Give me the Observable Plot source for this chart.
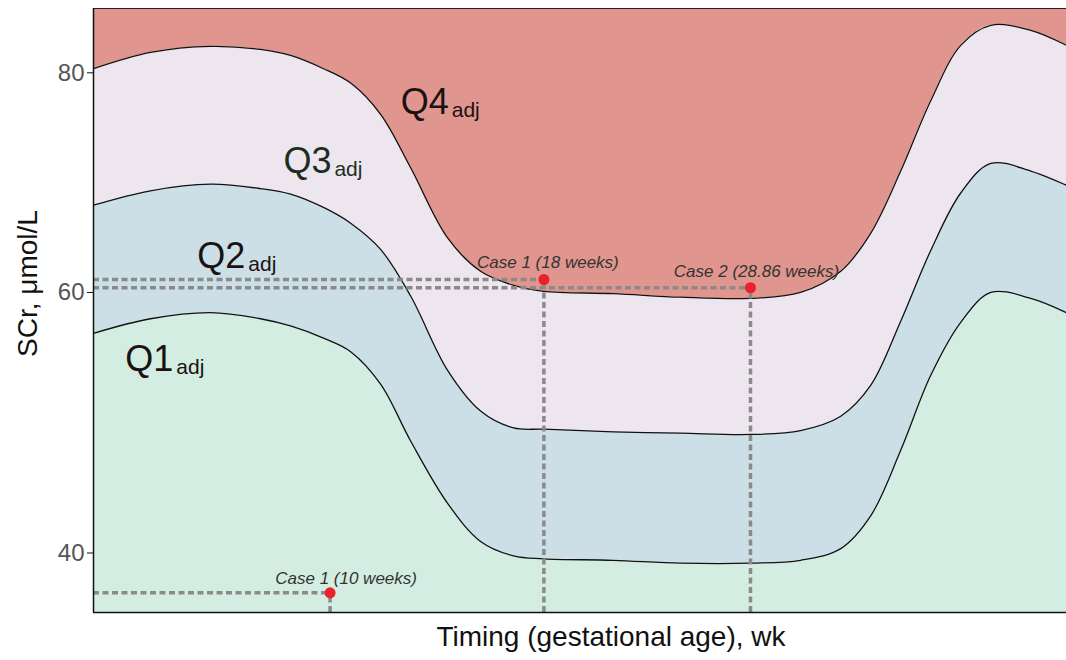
<!DOCTYPE html>
<html>
<head>
<meta charset="utf-8">
<script src="https://cdn.jsdelivr.net/npm/d3@7"></script>
<script src="https://cdn.jsdelivr.net/npm/@observablehq/plot@0.6"></script>
<style>
  html, body { margin: 0; padding: 0; background: #fff; overflow: hidden; }
  #chart svg { display: block; }
</style>
</head>
<body>
<div id="chart"></div>
<script>
// Gestational age (weeks) at which the band boundaries were read
const weeks  = [4.35, 5.44, 6.77, 8.02, 8.84, 9.80, 10.64, 11.62, 12.66, 14.02, 15.31, 16.68, 17.99, 21.29, 24.81, 28.87, 32.01, 34.69, 36.78, 38.96, 41.22, 43.56, 45.99, 49.36, 52.5];
// SCr boundaries (µmol/L) between adjusted quartiles
const upperQ3Q4  = [80.4, 82.0, 82.6, 82.3, 81.7, 80.4, 79.0, 76.0, 71.0, 64.7, 61.8, 60.6, 60.1, 59.9, 59.6, 59.5, 60.0, 61.8, 65.1, 70.7, 77.3, 82.7, 84.7, 84.2, 82.7];
const middleQ2Q3 = [67.6, 68.9, 69.5, 69.1, 68.6, 67.4, 66.0, 63.7, 59.7, 53.6, 50.4, 49.1, 49.0, 48.8, 48.7, 48.6, 48.9, 50.0, 52.4, 57.6, 63.6, 68.7, 71.4, 70.7, 69.4];
const lowerQ1Q2  = [56.6, 57.8, 58.3, 57.8, 57.2, 56.2, 55.1, 52.5, 48.1, 43.5, 40.8, 39.8, 39.6, 39.5, 39.3, 39.3, 39.5, 40.3, 42.6, 47.4, 53.2, 57.5, 60.0, 59.5, 58.3];

// Cases
const caseWeeks  = [10, 18, 28.86];
const caseSCr    = [37.3, 61.1, 60.4];
const caseLabels = ["Case 1 (10 weeks)", "Case 1 (18 weeks)", "Case 2 (28.86 weeks)"];

// Quartile labels
const qNames = ["Q1", "Q2", "Q3", "Q4"];
const qWeeks = [4.94, 6.46, 8.64, 12.31];
const qSCr   = [54.48, 63.09, 71.59, 77.14];

const yTicks = [40, 60, 80];
const xDomain = [4.35, 52.5];
const yDomain = [36, 86.4];

const rows = weeks.map((w, i) => ({w, lo: lowerQ1Q2[i], mid: middleQ2Q3[i], up: upperQ3Q4[i], bottom: yDomain[0], top: yDomain[1]}));
const cases = caseWeeks.map((w, i) => ({w, v: caseSCr[i], label: caseLabels[i], i}));
const qs = qNames.map((n, i) => ({n, w: qWeeks[i], v: qSCr[i]}));

const font = "'Liberation Sans', Arial, sans-serif";
const curve = "catmull-rom";
const dash = {stroke: "#8a8a8a", strokeWidth: 3.5, strokeDasharray: "6,3.5"};
const caseText = {x: "w", y: "v", text: "label", fontSize: 17, fontStyle: "italic", fill: "#333"};

const plot = Plot.plot({
  width: 1066,
  height: 660,
  marginLeft: 93,
  marginRight: 0,
  marginTop: 8,
  marginBottom: 48,
  style: {fontFamily: font, background: "#fff"},
  x: {type: "pow", exponent: 0.35, domain: xDomain, axis: null},
  y: {type: "sqrt", domain: yDomain, axis: null},
  clip: true,
  marks: [
    Plot.areaY(rows, {x: "w", y1: "bottom", y2: "lo", fill: "#d3ede2", curve}),
    Plot.areaY(rows, {x: "w", y1: "lo", y2: "mid", fill: "#cddfe6", curve}),
    Plot.areaY(rows, {x: "w", y1: "mid", y2: "up", fill: "#eee6ef", curve}),
    Plot.areaY(rows, {x: "w", y1: "up", y2: "top", fill: "#e0968e", curve}),
    Plot.lineY(rows, {x: "w", y: "lo", stroke: "#111", strokeWidth: 1.3, curve}),
    Plot.lineY(rows, {x: "w", y: "mid", stroke: "#111", strokeWidth: 1.3, curve}),
    Plot.lineY(rows, {x: "w", y: "up", stroke: "#111", strokeWidth: 1.3, curve}),
    // dashed guides
    Plot.ruleY(cases, {y: "v", x1: xDomain[0], x2: "w", ...dash}),
    Plot.ruleX(cases, {x: "w", y1: yDomain[0], y2: "v", ...dash}),
    Plot.dot(cases, {x: "w", y: "v", r: 5.5, fill: "#e8212b", stroke: "none"}),
    Plot.text(cases.filter(d => d.i === 0), {...caseText, dx: 16, dy: -14}),
    Plot.text(cases.filter(d => d.i === 1), {...caseText, dx: 4, dy: -17}),
    Plot.text(cases.filter(d => d.i === 2), {...caseText, dx: 6, dy: -16}),
    // quartile labels
    Plot.text(qs, {x: "w", y: "v", text: "n", textAnchor: "start", fontSize: 36, fill: d => d.n === "Q3" ? "#1c2e1f" : "#1a1212"}),
    Plot.text(qs, {x: "w", y: "v", text: () => "adj", textAnchor: "start", dx: 51, dy: 8, fontSize: 21, fill: d => d.n === "Q3" ? "#1c2e1f" : "#1a1212"}),
    // frame (left, top, bottom)
    Plot.ruleY([yDomain[0]], {stroke: "#111", strokeWidth: 1.5, clip: false}),
    Plot.ruleY([yDomain[1]], {stroke: "#222", strokeWidth: 1.2, clip: false}),
    Plot.ruleX([xDomain[0]], {stroke: "#111", strokeWidth: 1.5, clip: false}),
    // y axis
    Plot.axisY({ticks: yTicks, tickSize: 6, stroke: "#111", fill: "#555", fontSize: 24, tickPadding: 3, label: null}),
    // axis titles
    Plot.text(["SCr, μmol/L"], {frameAnchor: "left", textAnchor: "middle", dx: -65, dy: -27, rotate: -90, fontSize: 28, fill: "#111", clip: false}),
    Plot.text(["Timing (gestational age), wk"], {frameAnchor: "bottom", dx: 31, dy: 33, fontSize: 28, fill: "#111", clip: false})
  ]
});
document.getElementById("chart").append(plot);
</script>
</body>
</html>
